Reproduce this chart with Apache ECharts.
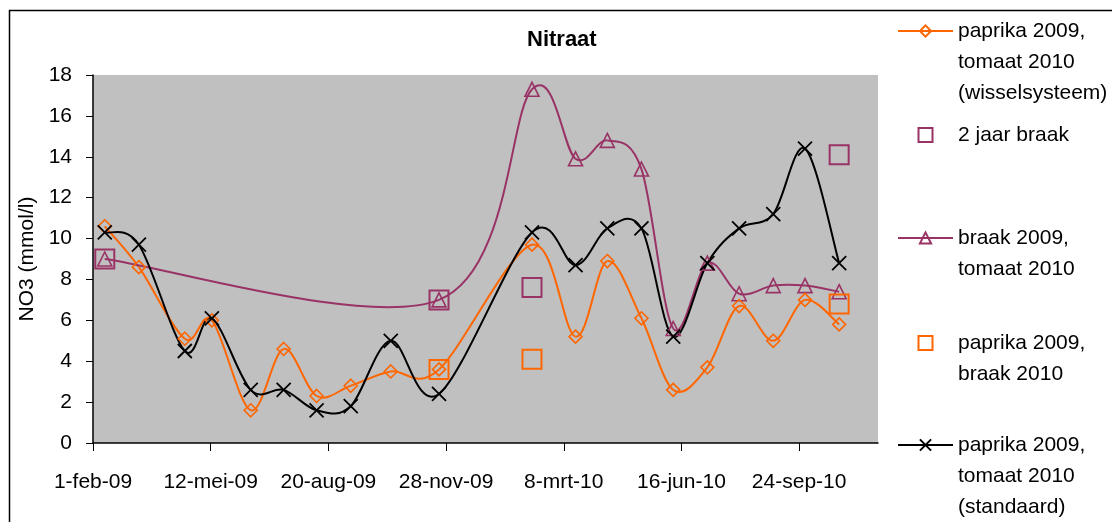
<!DOCTYPE html>
<html>
<head>
<meta charset="utf-8">
<script src="https://cdn.jsdelivr.net/npm/echarts@6/dist/echarts.min.js"></script>
<style>
html,body{margin:0;padding:0;background:#fff;}
#chart{width:1112px;height:522px;}
</style>
</head>
<body>
<div id="chart"></div>
<script>
// ---- data ----
const startDate = '2009-02-01';
const tickLabels = ['1-feb-09', '12-mei-09', '20-aug-09', '28-nov-09', '8-mrt-10', '16-jun-10', '24-sep-10'];
const sampleDates = ['2009-02-11', '2009-03-12', '2009-04-20', '2009-05-13', '2009-06-15', '2009-07-13', '2009-08-10', '2009-09-08', '2009-10-12', '2009-11-22', '2010-02-09', '2010-03-18', '2010-04-14', '2010-05-13', '2010-06-09', '2010-07-08', '2010-08-04', '2010-09-02', '2010-09-29', '2010-10-28'];
const wisselsysteem = [10.6, 8.6, 5.1, 6.0, 1.6, 4.6, 2.3, 2.8, 3.5, 3.6, 9.7, 5.2, 8.9, 6.1, 2.6, 3.7, 6.7, 5.0, 7.0, 5.8];
const standaard = [10.3, 9.7, 4.5, 6.1, 2.6, 2.6, 1.6, 1.8, 5.0, 2.4, 10.3, 8.7, 10.5, 10.5, 5.2, 8.8, 10.5, 11.2, 14.4, 8.8];
const braakDates = ['2009-02-11', '2009-11-22', '2010-02-09', '2010-03-18', '2010-04-14', '2010-05-13', '2010-06-09', '2010-07-08', '2010-08-04', '2010-09-02', '2010-09-29', '2010-10-28'];
const braakTomaat = [9.0, 7.0, 17.3, 13.9, 14.8, 13.4, 5.6, 8.8, 7.3, 7.7, 7.7, 7.4];
const tweeJaarDates = ['2009-02-11', '2009-11-22', '2010-02-09', '2010-10-28'];
const tweeJaarBraak = [9.0, 7.0, 7.6, 14.1];
const paprikaBraakDates = ['2009-11-22', '2010-02-09', '2010-10-28'];
const paprikaBraak = [3.6, 4.1, 6.8];
const seriesNames = [
  'paprika 2009,\ntomaat 2010\n(wisselsysteem)',
  '2 jaar braak',
  'braak 2009,\ntomaat 2010',
  'paprika 2009,\nbraak 2010',
  'paprika 2009,\ntomaat 2010\n(standaard)'
];

// ---- helpers ----
function dayOffset(s) {
  const p = s.split('-').map(Number), b = startDate.split('-').map(Number);
  return (Date.UTC(p[0], p[1] - 1, p[2]) - Date.UTC(b[0], b[1] - 1, b[2])) / 86400000;
}
function pairs(dates, vals) { return dates.map((d, i) => [dayOffset(d), vals[i]]); }

const FONT = "'Liberation Sans', Arial, sans-serif";
const FS = 21;
const ORANGE = '#FF6600', PURPLE = '#993366', BLACK = '#000000';
const XPATH = 'path://M0,0L10,10M0,10L10,0';

// Excel-style smoothed line (Catmull-Rom / Bezier, tension 1/6), drawn through the axes' scales
function curveSeries(key, dates, vals, color) {
  const xs = dates.map(dayOffset);
  const n = xs.length;
  return {
    type: 'custom', name: key + '-curve', silent: true, z: 1,
    data: xs.map((x, i) => [x, vals[i]]),
    encode: {x: 0, y: 1},
    renderItem: (params, api) => {
      const i = params.dataIndex;
      if (i >= n - 1) return null;
      const P = k => { const j = Math.max(0, Math.min(n - 1, k)); return api.coord([xs[j], vals[j]]); };
      const p0 = P(i - 1), p1 = P(i), p2 = P(i + 1), p3 = P(i + 2);
      return {
        type: 'bezierCurve',
        shape: {
          x1: p1[0], y1: p1[1], x2: p2[0], y2: p2[1],
          cpx1: p1[0] + (p2[0] - p0[0]) / 6, cpy1: p1[1] + (p2[1] - p0[1]) / 6,
          cpx2: p2[0] - (p3[0] - p1[0]) / 6, cpy2: p2[1] - (p3[1] - p1[1]) / 6
        },
        style: {stroke: color, lineWidth: 2, fill: 'none'}
      };
    }
  };
}

const chart = echarts.init(document.getElementById('chart'), null, {renderer: 'canvas'});

const series = [
  curveSeries('w', sampleDates, wisselsysteem, ORANGE),
  curveSeries('b', braakDates, braakTomaat, PURPLE),
  curveSeries('s', sampleDates, standaard, BLACK),
  {
    name: seriesNames[0], type: 'line', data: pairs(sampleDates, wisselsysteem),
    symbol: 'diamond', symbolSize: 13, showAllSymbol: true,
    lineStyle: {color: ORANGE, width: 2, opacity: 0},
    itemStyle: {color: 'rgba(0,0,0,0)', borderColor: ORANGE, borderWidth: 1.6}, z: 3
  },
  {
    name: seriesNames[1], type: 'scatter', data: pairs(tweeJaarDates, tweeJaarBraak),
    symbol: 'rect', symbolSize: 19,
    itemStyle: {color: 'rgba(0,0,0,0)', borderColor: PURPLE, borderWidth: 2, opacity: 1}, z: 4
  },
  {
    name: seriesNames[2], type: 'line', data: pairs(braakDates, braakTomaat),
    symbol: 'triangle', symbolSize: 14, showAllSymbol: true,
    lineStyle: {color: PURPLE, width: 2, opacity: 0},
    itemStyle: {color: 'rgba(0,0,0,0)', borderColor: PURPLE, borderWidth: 1.6}, z: 2
  },
  {
    name: seriesNames[3], type: 'scatter', data: pairs(paprikaBraakDates, paprikaBraak),
    symbol: 'rect', symbolSize: 19,
    itemStyle: {color: 'rgba(0,0,0,0)', borderColor: ORANGE, borderWidth: 2, opacity: 1}, z: 4
  },
  {
    name: seriesNames[4], type: 'line', data: pairs(sampleDates, standaard),
    symbol: XPATH, symbolSize: 14, showAllSymbol: true,
    lineStyle: {color: BLACK, width: 2, opacity: 0},
    itemStyle: {color: 'rgba(0,0,0,0)', borderColor: BLACK, borderWidth: 1.8}, z: 3
  }
];

const legendIconY = [31, 135, 238, 343, 445];
const legendIsLine = [true, false, true, false, true];
const LH = 31;
const legends = seriesNames.map((name, i) => {
  const n = name.split('\n').length;
  const line = legendIsLine[i];
  return {
    data: [name], orient: 'vertical',
    left: line ? 897 : 917.5,
    top: legendIconY[i] - (2 * n - 1) * LH / 2,
    padding: 0, itemWidth: line ? 55 : 14, itemHeight: 14, selectedMode: false,
    lineStyle: {width: 2, opacity: 1},
    formatter: nm => '\n'.repeat(n - 1) + nm,
    textStyle: {fontFamily: FONT, fontSize: FS, color: '#000', lineHeight: LH, padding: line ? 0 : [0, 0, 0, 20.5]}
  };
});

chart.setOption({
  animation: false,
  backgroundColor: '#fff',
  title: {
    text: 'Nitraat', left: 527, top: 29, padding: 0,
    textStyle: {fontFamily: FONT, fontSize: 22, fontWeight: 'bold', color: '#000'}
  },
  legend: legends,
  grid: {left: 93, right: 234, top: 75, bottom: 79, show: true, backgroundColor: '#C0C0C0', borderWidth: 0},
  xAxis: {
    type: 'value', min: 0, max: 667, interval: 100,
    splitLine: {show: false},
    axisLine: {show: true, onZero: false, lineStyle: {color: '#000', width: 1.5}},
    axisTick: {show: true, length: 8, lineStyle: {color: '#000', width: 1}, customValues: [0, 100, 200, 300, 400, 500, 600]},
    axisLabel: {
      customValues: [0, 100, 200, 300, 400, 500, 600],
      margin: 29, fontFamily: FONT, fontSize: FS, color: '#000',
      formatter: v => tickLabels[Math.round(v / 100)] || ''
    }
  },
  yAxis: {
    type: 'value', min: 0, max: 18, interval: 2,
    name: 'NO3 (mmol/l)', nameLocation: 'middle', nameRotate: 90, nameGap: 35,
    nameTextStyle: {fontFamily: FONT, fontSize: FS, color: '#000'},
    splitLine: {show: false},
    axisLine: {show: true, lineStyle: {color: '#000', width: 1.5}},
    axisTick: {show: true, length: 7, lineStyle: {color: '#000', width: 1}},
    axisLabel: {margin: 21, fontFamily: FONT, fontSize: FS, color: '#000'}
  },
  graphic: [{
    type: 'rect', left: 7, top: 8, silent: true, z: -10,
    shape: {width: 1300, height: 700},
    style: {fill: 'none', stroke: '#000', lineWidth: 1.5}
  }],
  series: series
});
</script>
</body>
</html>
